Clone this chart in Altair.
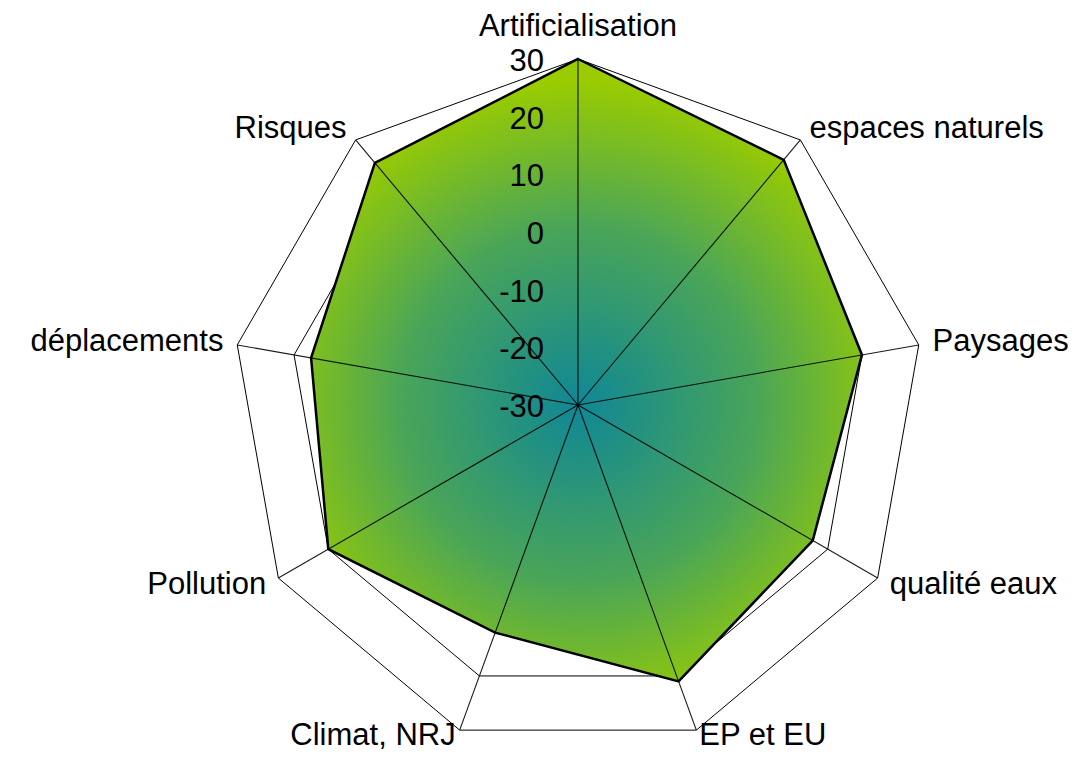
import altair as alt
import pandas as pd

categories = ["Artificialisation", "espaces naturels", "Paysages", "qualité eaux",
              "EP et EU", "Climat, NRJ", "Pollution", "déplacements", "Risques"]
values = [30, 25.5, 20, 17, 21, 12, 20, 17, 24.8]
tick_values = [-30, -20, -10, 0, 10, 20, 30]
tick_labels = ["-30", "-20", "-10", "0", "10", "20", "30"]
grid_levels = [-20, -10, 0, 10, 20, 30]
axis_min = -30
axis_max = 30

n = len(categories)
span = axis_max - axis_min
FONT = "Liberation Sans"

data_df = pd.DataFrame({"category": categories, "value": values, "idx": list(range(n))})
grid_df = pd.DataFrame([{"level": l, "idx": i} for l in grid_levels for i in range(n)])
spoke_df = pd.DataFrame({"category": categories, "idx": list(range(n))})
tick_df = pd.DataFrame({"tick": tick_values, "label": tick_labels})

W, H = 1061, 746
px_per_unit = 346 / span
cx, cy = 570, 397
x_scale = alt.Scale(domain=[-cx / px_per_unit, (W - cx) / px_per_unit], nice=False, zero=False)
y_scale = alt.Scale(domain=[-(H - cy) / px_per_unit, cy / px_per_unit], nice=False, zero=False)


def polar(chart, rexpr):
    return (chart
            .transform_calculate(r=rexpr)
            .transform_calculate(ang=f"datum.idx * 2 * PI / {n}")
            .transform_calculate(px="datum.r * sin(datum.ang)")
            .transform_calculate(py="datum.r * cos(datum.ang)"))


X = alt.X("px:Q", scale=x_scale, axis=None)
Y = alt.Y("py:Q", scale=y_scale, axis=None)

grid = polar(alt.Chart(grid_df), f"datum.level - ({axis_min})").mark_line(
    interpolate="linear-closed", stroke="black", strokeWidth=1
).encode(x=X, y=Y, detail="level:N", order="idx:Q")

gradient = alt.RadialGradient(
    gradient="radial",
    stops=[alt.GradientStop(color="#0f8796", offset=0),
           alt.GradientStop(color="#4aa558", offset=0.55),
           alt.GradientStop(color="#9acc00", offset=1)],
    x1=0.488, y1=0.555, x2=0.488, y2=0.555, r1=0, r2=0.52,
)

area = polar(alt.Chart(data_df), f"datum.value - ({axis_min})").mark_line(
    interpolate="linear-closed", fill=gradient, stroke="black", strokeWidth=2.5,
    strokeJoin="miter"
).encode(x=X, y=Y, order="idx:Q")

spokes = polar(alt.Chart(spoke_df), f"{span}").transform_calculate(
    x0="0", y0="0"
).mark_rule(color="black", strokeWidth=1.1, opacity=0.9).encode(
    x=alt.X("x0:Q", scale=x_scale, axis=None),
    y=alt.Y("y0:Q", scale=y_scale, axis=None),
    x2="px:Q", y2="py:Q",
)

ticks = alt.Chart(tick_df).transform_calculate(
    x0="0", ty=f"datum.tick - ({axis_min})"
).mark_text(align="right", baseline="middle", dx=-34, dy=3, fontSize=31,
            font=FONT, color="black").encode(
    x=alt.X("x0:Q", scale=x_scale, axis=None),
    y=alt.Y("ty:Q", scale=y_scale, axis=None),
    text="label:N",
)

pad_unit = 14 / px_per_unit
txt = dict(fontSize=31, font=FONT, color="black")
bottom = [4, 5]

top_lbl = polar(alt.Chart(spoke_df), f"{span} + {23 / px_per_unit}").transform_filter(
    "datum.idx == 0"
).mark_text(align="center", baseline="alphabetic", **txt).encode(x=X, y=Y, text="category:N")

right_lbl = polar(alt.Chart(spoke_df), f"{span} + {pad_unit}").transform_filter(
    f"datum.idx > 0 && datum.idx <= {(n - 1) // 2} && datum.idx != {bottom[0]}"
).mark_text(align="left", baseline="middle", **txt).encode(x=X, y=Y, text="category:N")

left_lbl = polar(alt.Chart(spoke_df), f"{span} + {pad_unit}").transform_filter(
    f"datum.idx > {(n - 1) // 2} && datum.idx != {bottom[1]}"
).mark_text(align="right", baseline="middle", **txt).encode(x=X, y=Y, text="category:N")

bot_right = polar(alt.Chart(spoke_df), f"{span}").transform_filter(
    f"datum.idx == {bottom[0]}"
).mark_text(align="left", baseline="alphabetic", dx=3, dy=15, **txt).encode(
    x=X, y=Y, text="category:N")

bot_left = polar(alt.Chart(spoke_df), f"{span}").transform_filter(
    f"datum.idx == {bottom[1]}"
).mark_text(align="right", baseline="alphabetic", dx=-4, dy=15, **txt).encode(
    x=X, y=Y, text="category:N")

chart = alt.layer(grid, area, spokes, ticks, top_lbl, right_lbl, left_lbl,
                  bot_right, bot_left).properties(
    width=W, height=H, autosize=alt.AutoSizeParams(type="none"), padding=0,
    background="white",
).configure_view(stroke=None)

chart.save("out.html", embed_options={"renderer": "svg", "actions": False})
